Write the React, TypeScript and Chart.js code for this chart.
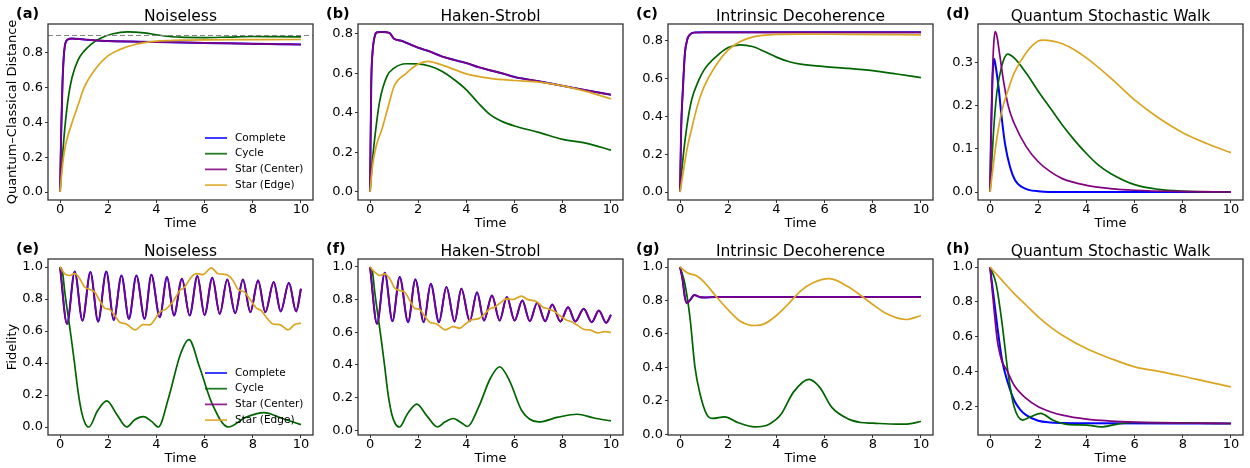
import React, { useEffect, useRef } from "react";
import { Chart, registerables } from "chart.js";

Chart.register(...registerables);

type Pt = [number, number];

// ---------------- data: Quantum–Classical Distance ----------------
const distNoiselessComplete: Pt[] = [[0,0],[0.05,0.36],[0.1,0.62],[0.15,0.77],[0.2,0.84],[0.3,0.875],[0.5,0.882],[1,0.877],[2,0.868],[3,0.865],[4,0.862],[5,0.86],[6,0.857],[7,0.855],[8,0.852],[9,0.85],[10,0.848]];
const distNoiselessCycle: Pt[] = [[0,0],[0.1,0.2],[0.2,0.37],[0.35,0.55],[0.5,0.66],[0.75,0.76],[1,0.81],[1.3,0.85],[1.7,0.885],[2.2,0.91],[2.8,0.921],[3.5,0.915],[4.2,0.9],[5,0.89],[6,0.888],[7,0.891],[8,0.894],[9,0.893],[10,0.892]];
const distNoiselessStarCenter: Pt[] = [[0,0],[0.05,0.36],[0.1,0.62],[0.15,0.77],[0.2,0.84],[0.3,0.875],[0.5,0.882],[1,0.877],[2,0.868],[3,0.865],[4,0.862],[5,0.86],[6,0.857],[7,0.855],[8,0.852],[9,0.85],[10,0.848]];
const distNoiselessStarEdge: Pt[] = [[0,0],[0.1,0.15],[0.2,0.25],[0.3,0.31],[0.5,0.4],[0.75,0.5],[1,0.6],[1.5,0.713],[2,0.784],[2.5,0.82],[3,0.844],[4,0.867],[5,0.873],[6,0.875],[8,0.876],[10,0.877]];

const distHSComplete: Pt[] = [[0,0],[0.05,0.55],[0.1,0.7],[0.2,0.79],[0.3,0.808],[0.5,0.81],[0.8,0.805],[1,0.775],[1.3,0.765],[1.6,0.75],[2,0.73],[2.5,0.71],[3,0.685],[3.5,0.668],[4,0.652],[4.5,0.632],[5,0.615],[5.5,0.6],[6,0.582],[7,0.56],[8,0.537],[9,0.514],[10,0.492]];
const distHSCycle: Pt[] = [[0,0],[0.1,0.16],[0.25,0.33],[0.4,0.46],[0.7,0.585],[1,0.627],[1.5,0.649],[2,0.648],[2.5,0.636],[3,0.61],[3.5,0.568],[4,0.517],[4.5,0.449],[5,0.39],[5.5,0.356],[6,0.334],[7,0.302],[8,0.266],[9,0.246],[10,0.212]];
const distHSStarCenter: Pt[] = [[0,0],[0.05,0.55],[0.1,0.7],[0.2,0.79],[0.3,0.808],[0.5,0.81],[0.8,0.805],[1,0.775],[1.3,0.765],[1.6,0.75],[2,0.73],[2.5,0.71],[3,0.685],[3.5,0.668],[4,0.652],[4.5,0.632],[5,0.615],[5.5,0.6],[6,0.582],[7,0.56],[8,0.537],[9,0.514],[10,0.492]];
const distHSStarEdge: Pt[] = [[0,0],[0.1,0.13],[0.25,0.23],[0.5,0.32],[0.75,0.43],[1,0.535],[1.5,0.6],[2,0.647],[2.4,0.661],[3,0.642],[4,0.598],[5,0.575],[6,0.564],[7,0.556],[8,0.537],[9,0.508],[10,0.471]];

const distIDComplete: Pt[] = [[0,0],[0.05,0.35],[0.1,0.5],[0.14,0.6],[0.2,0.73],[0.3,0.805],[0.4,0.83],[0.6,0.842],[1,0.843],[3,0.843],[6,0.843],[10,0.843]];
const distIDCycle: Pt[] = [[0,0],[0.1,0.15],[0.28,0.344],[0.48,0.486],[0.75,0.583],[1,0.645],[1.5,0.715],[2,0.763],[2.5,0.777],[3,0.768],[3.5,0.742],[4,0.712],[4.5,0.689],[5,0.675],[6,0.662],[7,0.653],[8,0.641],[9,0.623],[10,0.604]];
const distIDStarCenter: Pt[] = [[0,0],[0.05,0.35],[0.1,0.5],[0.14,0.6],[0.2,0.73],[0.3,0.805],[0.4,0.83],[0.6,0.842],[1,0.843],[3,0.843],[6,0.843],[10,0.843]];
const distIDStarEdge: Pt[] = [[0,0],[0.1,0.08],[0.28,0.22],[0.5,0.344],[0.75,0.468],[1,0.556],[1.5,0.671],[2,0.75],[2.5,0.795],[3,0.818],[4,0.832],[5,0.834],[7,0.832],[10,0.83]];

const distQSWComplete: Pt[] = [[0,0],[0.05,0.16],[0.1,0.26],[0.17,0.308],[0.25,0.285],[0.35,0.244],[0.48,0.174],[0.62,0.112],[0.83,0.058],[1.04,0.027],[1.31,0.012],[1.6,0.005],[2,0.002],[3,0],[10,0]];
const distQSWCycle: Pt[] = [[0,0],[0.14,0.136],[0.28,0.229],[0.48,0.29],[0.73,0.319],[1,0.31],[1.5,0.275],[2,0.233],[2.5,0.194],[3,0.155],[3.5,0.12],[4,0.089],[4.5,0.062],[5,0.043],[6,0.017],[7,0.006],[8,0.002],[10,0]];
const distQSWStarCenter: Pt[] = [[0,0],[0.05,0.15],[0.1,0.27],[0.15,0.34],[0.21,0.371],[0.28,0.362],[0.41,0.314],[0.55,0.26],[0.76,0.198],[1,0.159],[1.5,0.105],[2,0.07],[2.5,0.047],[3,0.031],[4,0.0155],[5,0.008],[6,0.004],[8,0.001],[10,0]];
const distQSWStarEdge: Pt[] = [[0,0],[0.25,0.112],[0.5,0.19],[0.75,0.236],[1,0.275],[1.5,0.322],[2,0.349],[2.2,0.351],[2.6,0.349],[3,0.343],[3.5,0.329],[4,0.31],[5,0.264],[6,0.213],[7,0.171],[8,0.137],[9,0.112],[10,0.091]];

// ---------------- data: Fidelity ----------------
const fidNoiselessComplete: Pt[] = [[0,1],[0.29,0.644],[0.61,0.972],[0.93,0.665],[1.26,0.968],[1.58,0.659],[1.92,0.972],[2.23,0.669],[2.55,0.947],[2.86,0.676],[3.17,0.947],[3.51,0.676],[3.79,0.952],[4.14,0.686],[4.44,0.937],[4.73,0.697],[5.06,0.927],[5.38,0.697],[5.7,0.943],[6.0,0.7],[6.32,0.933],[6.63,0.707],[6.94,0.922],[7.27,0.711],[7.59,0.922],[7.9,0.718],[8.22,0.916],[8.52,0.718],[8.87,0.906],[9.16,0.722],[9.5,0.901],[9.8,0.722],[10,0.864]];
const fidNoiselessCycle: Pt[] = [[0,1],[0.1,0.97],[0.2,0.84],[0.33,0.7],[0.47,0.55],[0.6,0.4],[0.75,0.22],[0.9,0.09],[1.05,0.02],[1.2,0],[1.55,0.1],[1.94,0.163],[2.35,0.08],[2.77,0],[3.1,0.045],[3.46,0.065],[3.8,0.035],[4.08,0],[4.5,0.18],[5,0.456],[5.35,0.546],[5.8,0.37],[6.3,0.15],[6.98,0],[7.7,0.06],[8.46,0.09],[9.2,0.055],[10,0.015]];
const fidNoiselessStarCenter: Pt[] = [[0,1],[0.29,0.644],[0.61,0.972],[0.93,0.665],[1.26,0.968],[1.58,0.659],[1.92,0.972],[2.23,0.669],[2.55,0.947],[2.86,0.676],[3.17,0.947],[3.51,0.676],[3.79,0.952],[4.14,0.686],[4.44,0.937],[4.73,0.697],[5.06,0.927],[5.38,0.697],[5.7,0.943],[6.0,0.7],[6.32,0.933],[6.63,0.707],[6.94,0.922],[7.27,0.711],[7.59,0.922],[7.9,0.718],[8.22,0.916],[8.52,0.718],[8.87,0.906],[9.16,0.722],[9.5,0.901],[9.8,0.722],[10,0.864]];
const fidNoiselessStarEdge: Pt[] = [[0,1],[0.19,0.958],[0.4,0.947],[0.61,0.958],[0.82,0.927],[1.02,0.875],[1.23,0.86],[1.44,0.843],[1.65,0.79],[1.85,0.743],[2.06,0.734],[2.27,0.697],[2.48,0.655],[2.75,0.644],[3.13,0.607],[3.44,0.64],[3.72,0.638],[3.93,0.671],[4.14,0.718],[4.41,0.738],[4.69,0.784],[4.97,0.853],[5.17,0.875],[5.45,0.937],[5.66,0.958],[5.93,0.952],[6.28,0.994],[6.56,0.958],[6.9,0.952],[7.18,0.916],[7.39,0.86],[7.66,0.843],[7.87,0.801],[8.15,0.743],[8.35,0.728],[8.56,0.686],[8.84,0.644],[9.12,0.64],[9.46,0.607],[9.74,0.64],[10,0.649]];

const fidHSComplete: Pt[] = [[0,1],[0.29,0.652],[0.61,0.965],[0.93,0.668],[1.23,0.939],[1.58,0.662],[1.88,0.924],[2.23,0.662],[2.52,0.897],[2.86,0.662],[3.17,0.877],[3.51,0.666],[3.79,0.867],[4.14,0.668],[4.44,0.846],[4.73,0.672],[5.06,0.826],[5.38,0.672],[5.68,0.816],[6.0,0.672],[6.32,0.795],[6.63,0.668],[6.94,0.781],[7.27,0.668],[7.56,0.77],[7.9,0.666],[8.22,0.754],[8.52,0.666],[8.87,0.744],[9.2,0.662],[9.5,0.733],[9.8,0.658],[10,0.707]];
const fidHSCycle: Pt[] = [[0,1],[0.1,0.97],[0.2,0.84],[0.33,0.7],[0.47,0.55],[0.6,0.4],[0.75,0.22],[0.9,0.1],[1.05,0.04],[1.22,0.02],[1.55,0.1],[1.94,0.16],[2.35,0.09],[2.8,0.02],[3.1,0.05],[3.46,0.072],[3.8,0.045],[4.05,0.023],[4.5,0.14],[5,0.32],[5.38,0.389],[5.8,0.3],[6.3,0.12],[7.0,0.051],[7.8,0.08],[8.6,0.098],[9.3,0.075],[10,0.057]];
const fidHSStarCenter: Pt[] = [[0,1],[0.29,0.652],[0.61,0.965],[0.93,0.668],[1.23,0.939],[1.58,0.662],[1.88,0.924],[2.23,0.662],[2.52,0.897],[2.86,0.662],[3.17,0.877],[3.51,0.666],[3.79,0.867],[4.14,0.668],[4.44,0.846],[4.73,0.672],[5.06,0.826],[5.38,0.672],[5.68,0.816],[6.0,0.672],[6.32,0.795],[6.63,0.668],[6.94,0.781],[7.27,0.668],[7.56,0.77],[7.9,0.666],[8.22,0.754],[8.52,0.666],[8.87,0.744],[9.2,0.662],[9.5,0.733],[9.8,0.658],[10,0.707]];
const fidHSStarEdge: Pt[] = [[0,1],[0.19,0.969],[0.4,0.948],[0.61,0.958],[0.82,0.928],[1.02,0.871],[1.23,0.856],[1.44,0.846],[1.65,0.795],[1.85,0.748],[2.06,0.74],[2.27,0.699],[2.48,0.662],[2.75,0.652],[3.13,0.615],[3.44,0.635],[3.72,0.625],[3.93,0.647],[4.2,0.676],[4.48,0.682],[4.69,0.703],[4.97,0.744],[5.17,0.754],[5.45,0.785],[5.66,0.805],[5.93,0.801],[6.28,0.822],[6.56,0.8],[6.9,0.789],[7.18,0.754],[7.39,0.744],[7.66,0.727],[7.87,0.703],[8.15,0.676],[8.35,0.666],[8.63,0.641],[8.9,0.617],[9.12,0.615],[9.46,0.596],[9.74,0.604],[10,0.6]];

const fidIDComplete: Pt[] = [[0,1],[0.1,0.93],[0.2,0.82],[0.28,0.785],[0.4,0.8],[0.6,0.832],[0.8,0.821],[1,0.818],[1.5,0.82],[3,0.82],[6,0.82],[10,0.82]];
const fidIDCycle: Pt[] = [[0,1],[0.2,0.9],[0.41,0.7],[0.62,0.4],[0.83,0.24],[1.1,0.12],[1.35,0.094],[1.85,0.104],[2.4,0.07],[3.1,0.044],[3.7,0.06],[4.2,0.12],[4.7,0.25],[5.35,0.328],[5.8,0.28],[6.3,0.16],[7,0.09],[7.5,0.07],[8,0.066],[9,0.06],[9.5,0.062],[10,0.076]];
const fidIDStarCenter: Pt[] = [[0,1],[0.1,0.93],[0.2,0.82],[0.28,0.785],[0.4,0.8],[0.6,0.832],[0.8,0.821],[1,0.818],[1.5,0.82],[3,0.82],[6,0.82],[10,0.82]];
const fidIDStarEdge: Pt[] = [[0,1],[0.3,0.966],[0.7,0.946],[1,0.91],[1.5,0.824],[2,0.744],[2.5,0.676],[3.1,0.65],[3.5,0.66],[4,0.71],[4.5,0.78],[5,0.856],[5.5,0.904],[6.2,0.93],[7,0.88],[7.5,0.83],[8,0.776],[8.5,0.726],[9,0.696],[9.4,0.686],[10,0.71]];

const fidQSWComplete: Pt[] = [[0,1],[0.15,0.83],[0.3,0.66],[0.5,0.464],[0.75,0.33],[1,0.234],[1.25,0.18],[1.5,0.148],[2,0.116],[2.5,0.106],[3,0.103],[4,0.101],[10,0.1]];
const fidQSWCycle: Pt[] = [[0,1],[0.25,0.904],[0.5,0.675],[0.75,0.388],[1,0.196],[1.35,0.12],[1.7,0.14],[2.1,0.158],[2.6,0.12],[3.2,0.095],[4,0.091],[4.6,0.081],[5.3,0.097],[6,0.106],[8,0.104],[10,0.1]];
const fidQSWStarCenter: Pt[] = [[0,1],[0.15,0.78],[0.3,0.58],[0.41,0.5],[0.5,0.455],[0.7,0.405],[1,0.32],[1.5,0.244],[2,0.196],[2.5,0.168],[3,0.148],[4,0.125],[5,0.114],[6,0.108],[8,0.103],[10,0.1]];
const fidQSWStarEdge: Pt[] = [[0,1],[0.5,0.923],[1,0.847],[1.5,0.78],[2,0.713],[2.5,0.656],[3,0.608],[4,0.531],[5,0.474],[6,0.426],[7,0.4],[8,0.372],[9,0.341],[10,0.311]];

// ---------------- labels, ticks, ranges ----------------
const SERIES_NAMES = ["Complete", "Cycle", "Star (Center)", "Star (Edge)"];
const SERIES_COLORS = ["#0000ff", "#006400", "#800080", "#daa520"];
const PANEL_TITLES = ["Noiseless", "Haken-Strobl", "Intrinsic Decoherence", "Quantum Stochastic Walk"];
const DIST_LABELS = ["(a)", "(b)", "(c)", "(d)"];
const FID_LABELS = ["(e)", "(f)", "(g)", "(h)"];
const X_TICKS = [0, 2, 4, 6, 8, 10];
const X_RANGE = [-0.5, 10.5];
const DIST_Y_TICKS = [[0, 0.2, 0.4, 0.6, 0.8], [0, 0.2, 0.4, 0.6, 0.8], [0, 0.2, 0.4, 0.6, 0.8], [0, 0.1, 0.2, 0.3]];
const FID_Y_TICKS = [[0, 0.2, 0.4, 0.6, 0.8, 1.0], [0, 0.2, 0.4, 0.6, 0.8, 1.0], [0, 0.2, 0.4, 0.6, 0.8, 1.0], [0.2, 0.4, 0.6, 0.8, 1.0]];
const DIST_Y_RANGE = [[-0.046, 0.966], [-0.0405, 0.85], [-0.042, 0.887], [-0.0185, 0.3885]];
const FID_Y_RANGE = [[-0.05, 1.05], [-0.029, 1.049], [-0.005, 1.048], [0.034, 1.046]];
const DIST_THRESHOLD = 0.9;
const Y_TITLES = ["Quantum–Classical Distance", "Fidelity"];
const X_TITLE = "Time";

const DIST_SERIES: Pt[][][] = [
  [distNoiselessComplete, distNoiselessCycle, distNoiselessStarCenter, distNoiselessStarEdge],
  [distHSComplete, distHSCycle, distHSStarCenter, distHSStarEdge],
  [distIDComplete, distIDCycle, distIDStarCenter, distIDStarEdge],
  [distQSWComplete, distQSWCycle, distQSWStarCenter, distQSWStarEdge],
];
const FID_SERIES: Pt[][][] = [
  [fidNoiselessComplete, fidNoiselessCycle, fidNoiselessStarCenter, fidNoiselessStarEdge],
  [fidHSComplete, fidHSCycle, fidHSStarCenter, fidHSStarEdge],
  [fidIDComplete, fidIDCycle, fidIDStarCenter, fidIDStarEdge],
  [fidQSWComplete, fidQSWCycle, fidQSWStarCenter, fidQSWStarEdge],
];

// ---------------- layout ----------------
const FONT = '"DejaVu Sans", "Liberation Sans", sans-serif';
const AX_LEFT = [48, 358, 668, 978];
const AX_TOP = [24, 259];
const AX_W = 265;
const AX_H = 176;
const M_LEFT = 48;
const M_TOP = 24;
const M_RIGHT = 12;
const M_BOTTOM = 33;
const CW = M_LEFT + AX_W + M_RIGHT;
const CH = M_TOP + AX_H + M_BOTTOM;

interface PanelCfg {
  row: number;
  col: number;
  label: string;
  title: string;
  series: Pt[][];
  yRange: number[];
  yTicks: number[];
  yTitle: string | null;
  legend: boolean;
  threshold: number | null;
}

const PANELS: PanelCfg[] = [];
for (let c = 0; c < 4; c++) {
  PANELS.push({
    row: 0, col: c, label: DIST_LABELS[c], title: PANEL_TITLES[c], series: DIST_SERIES[c],
    yRange: DIST_Y_RANGE[c], yTicks: DIST_Y_TICKS[c], yTitle: c === 0 ? Y_TITLES[0] : null,
    legend: c === 0, threshold: c === 0 ? DIST_THRESHOLD : null,
  });
}
for (let c = 0; c < 4; c++) {
  PANELS.push({
    row: 1, col: c, label: FID_LABELS[c], title: PANEL_TITLES[c], series: FID_SERIES[c],
    yRange: FID_Y_RANGE[c], yTicks: FID_Y_TICKS[c], yTitle: c === 0 ? Y_TITLES[1] : null,
    legend: c === 0, threshold: null,
  });
}

function Panel({ cfg }: { cfg: PanelCfg }) {
  const ref = useRef<HTMLCanvasElement>(null);
  useEffect(() => {
    const canvas = ref.current;
    if (!canvas) return;
    const datasets: any[] = cfg.series.map((pts, i) => ({
      label: SERIES_NAMES[i],
      data: pts.map(([x, y]) => ({ x, y })),
      borderColor: SERIES_COLORS[i],
      backgroundColor: SERIES_COLORS[i],
      borderWidth: i === 0 ? 2 : 1.7,
      pointRadius: 0,
      fill: false,
      cubicInterpolationMode: "monotone",
      order: 4 - i,
    }));
    if (cfg.threshold !== null) {
      datasets.push({
        label: "threshold",
        data: [{ x: X_RANGE[0], y: cfg.threshold }, { x: X_RANGE[1], y: cfg.threshold }],
        borderColor: "#808080",
        borderWidth: 1,
        borderDash: [5, 3],
        pointRadius: 0,
        fill: false,
        order: 0,
      });
    }
    const annot = {
      id: "annot",
      afterDraw(chart: any) {
        const { ctx, chartArea: a } = chart;
        ctx.save();
        // frame
        ctx.strokeStyle = "#333";
        ctx.lineWidth = 1.3;
        ctx.strokeRect(a.left, a.top, a.right - a.left, a.bottom - a.top);
        // title
        ctx.fillStyle = "#000";
        ctx.font = `15.5px ${FONT}`;
        ctx.textAlign = "center";
        ctx.textBaseline = "alphabetic";
        ctx.fillText(cfg.title, (a.left + a.right) / 2, a.top - 3.5);
        // panel label
        ctx.font = `bold 14.5px ${FONT}`;
        ctx.textAlign = "left";
        ctx.fillText(cfg.label, a.left - 32, a.top - 6.5);
        // legend
        if (cfg.legend) {
          ctx.font = `10.5px ${FONT}`;
          ctx.textBaseline = "middle";
          SERIES_NAMES.forEach((name, i) => {
            const y = a.top + 114 + 15.7 * i;
            ctx.strokeStyle = SERIES_COLORS[i];
            ctx.globalAlpha = 0.85;
            ctx.lineWidth = 1.8;
            ctx.beginPath();
            ctx.moveTo(a.left + 157, y);
            ctx.lineTo(a.left + 179, y);
            ctx.stroke();
            ctx.globalAlpha = 1;
            ctx.fillStyle = "#000";
            ctx.fillText(name, a.left + 187, y);
          });
        }
        ctx.restore();
      },
    };
    const chart = new Chart(canvas, {
      type: "line",
      data: { datasets },
      options: {
        responsive: false,
        animation: false,
        devicePixelRatio: 1,
        events: [],
        layout: { padding: { left: 0, top: M_TOP, right: M_RIGHT, bottom: 0 } },
        plugins: { legend: { display: false }, tooltip: { enabled: false }, title: { display: false } },
        scales: {
          x: {
            type: "linear",
            bounds: "data",
            min: X_RANGE[0],
            max: X_RANGE[1],
            afterBuildTicks: (s: any) => { s.ticks = X_TICKS.map((v) => ({ value: v })); },
            afterFit: (s: any) => { s.height = M_BOTTOM; },
            grid: { display: true, drawOnChartArea: false, drawTicks: true, tickLength: 3, tickColor: "#333", tickWidth: 1 },
            border: { display: false },
            ticks: {
              autoSkip: false, maxRotation: 0, minRotation: 0, padding: 0.5, color: "#000",
              font: { family: FONT, size: 13, lineHeight: 1 },
              callback: (v: any) => String(v),
            },
            title: {
              display: true, text: X_TITLE, color: "#000",
              font: { family: FONT, size: 13, lineHeight: 1.2 },
              padding: { top: 0, bottom: 1.5 },
            },
          },
          y: {
            type: "linear",
            bounds: "data",
            min: cfg.yRange[0],
            max: cfg.yRange[1],
            afterBuildTicks: (s: any) => { s.ticks = cfg.yTicks.map((v) => ({ value: v })); },
            afterFit: (s: any) => { s.width = M_LEFT; },
            grid: { display: true, drawOnChartArea: false, drawTicks: true, tickLength: 3, tickColor: "#333", tickWidth: 1 },
            border: { display: false },
            ticks: {
              autoSkip: false, padding: 2, color: "#000",
              font: { family: FONT, size: 13, lineHeight: 1 },
              callback: (v: any) => Number(v).toFixed(1),
            },
            title: {
              display: cfg.yTitle !== null, text: cfg.yTitle || "", color: "#000",
              font: { family: FONT, size: 13, lineHeight: 1.2 },
              padding: { top: 4.5, bottom: 0 },
            },
          },
        },
      } as any,
      plugins: [annot],
    });
    return () => chart.destroy();
  }, [cfg]);
  return (
    <canvas
      ref={ref}
      width={CW}
      height={CH}
      style={{ position: "absolute", left: AX_LEFT[cfg.col] - M_LEFT, top: AX_TOP[cfg.row] - M_TOP, width: CW, height: CH, display: "block" }}
    />
  );
}

export default function App() {
  return (
    <div style={{ position: "absolute", left: 0, top: 0, width: 1250, height: 468, overflow: "hidden", background: "#fff" }}>
      {PANELS.map((p, i) => <Panel key={i} cfg={p} />)}
    </div>
  );
}
